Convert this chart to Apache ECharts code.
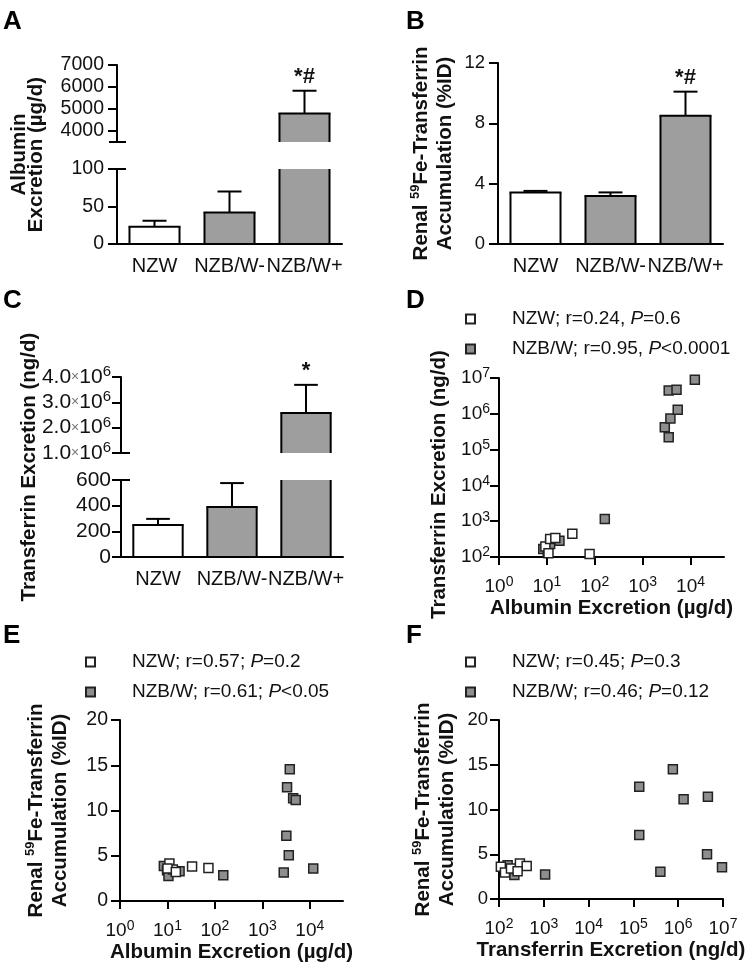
<!DOCTYPE html>
<html><head><meta charset="utf-8">
<script src="https://cdn.jsdelivr.net/npm/echarts@6/dist/echarts.min.js"></script>
<style>html,body{margin:0;padding:0;background:#fff}#c{width:750px;height:966px}</style>
</head><body><div id="c"></div>
<script>
// ---------------- DATA ----------------
const categories = ['NZW', 'NZB/W-', 'NZB/W+'];
const panelLetters = ['A', 'B', 'C', 'D', 'E', 'F'];

// A: albumin excretion (µg/d), mean and SEM
const albuminMean = [23, 42, 4800];
const albuminSem = [8, 28, 1030];
const albuminSig = ['', '', '*#'];
const albuminLowRange = [0, 100];
const albuminHighRange = [3500, 7000];
const albuminLowTicks = [0, 50, 100];
const albuminHighTicks = [4000, 5000, 6000, 7000];

// B: renal 59Fe-transferrin accumulation (%ID)
const renalMean = [3.42, 3.18, 8.5];
const renalSem = [0.1, 0.24, 1.6];
const renalSig = ['', '', '*#'];
const renalRange = [0, 12];
const renalTicks = [0, 4, 8, 12];

// C: transferrin excretion (ng/d)
const tfMean = [250, 390, 2580000];
const tfSem = [47, 186, 1110000];
const tfSig = ['', '', '*'];
const tfLowRange = [0, 600];
const tfHighRange = [1000000, 4000000];
const tfLowTicks = [0, 200, 400, 600];
const tfHighTicks = [1000000, 2000000, 3000000, 4000000];

// D: albumin (µg/d) vs transferrin (ng/d)
const dNZW = [[9.3, 198], [11.7, 318], [15, 340], [34, 447], [78, 121], [10.8, 128]];
const dNZBW = [[8.4, 167], [10.4, 140], [11.7, 231], [18.3, 285], [162, 1150],
  [2900, 420000], [3500, 220000], [3800, 740000], [5400, 1300000],
  [3500, 4500000], [5100, 4700000], [12300, 8900000]];
const dLegend = { 'NZW': 'NZW; r=0.24, {i|P}=0.6', 'NZB/W': 'NZB/W; r=0.95, {i|P}<0.0001' };
const dXRange = [1, 50000];
const dXTicks = [1, 10, 100, 1000, 10000];
const dYRange = [100, 10000000];
const dYTicks = [100, 1000, 10000, 100000, 1000000, 10000000];

// E: albumin (µg/d) vs renal accumulation (%ID)
const eNZW = [[11, 4.14], [13, 3.47], [33, 3.8], [73, 3.66], [10, 3.6], [15, 3.2]];
const eNZBW = [[8.4, 3.87], [9.8, 3.4], [10.5, 2.77], [18, 3.3], [150, 2.84],
  [3780, 14.57], [3310, 12.57], [4450, 11.35], [5040, 11.16], [3200, 7.2],
  [3600, 5.06], [2820, 3.14], [11800, 3.59]];
const eLegend = { 'NZW': 'NZW; r=0.57; {i|P}=0.2', 'NZB/W': 'NZB/W; r=0.61; {i|P}<0.05' };
const eXRange = [1, 50000];
const eXTicks = [1, 10, 100, 1000, 10000];
const eYRange = [0, 20];
const eYTicks = [0, 5, 10, 15, 20];

// F: transferrin (ng/d) vs renal accumulation (%ID)
const fNZW = [[110, 3.59], [136, 2.96], [185, 3.41], [293, 3.97], [415, 3.7], [260, 3.1]];
const fNZBW = [[156, 3.78], [220, 2.67], [250, 3.33], [1070, 2.74],
  [760000, 14.49], [135000, 12.55], [1320000, 11.14], [4600000, 11.43],
  [135000, 7.15], [400000, 3.05], [4400000, 4.99], [9500000, 3.54]];
const fLegend = { 'NZW': 'NZW; r=0.45; {i|P}=0.3', 'NZB/W': 'NZB/W; r=0.46; {i|P}=0.12' };
const fXRange = [100, 10000000];
const fXTicks = [100, 1000, 10000, 100000, 1000000, 10000000];
const fYRange = [0, 20];
const fYTicks = [0, 5, 10, 15, 20];

// ---------------- STYLE / HELPERS ----------------
const FONT = '"Liberation Sans", Arial, Helvetica, sans-serif';
const INK = '#111';
const BAR_GRAY = '#9e9e9e';
const PT_GRAY = '#8e8e8e';
const lineSt = { color: '#000', width: 2 };
function makeRich(fs) {
  return {
    b: { fontSize: fs, fontFamily: FONT, color: INK, lineHeight: fs + 4 },
    s: { fontSize: Math.round(fs * 0.72), fontFamily: FONT, color: INK, verticalAlign: 'top', lineHeight: Math.round(fs * 0.72) },
    x: { fontSize: Math.round(fs * 0.66), fontFamily: FONT, color: '#777', lineHeight: fs + 4 }
  };
}
const NAME_RICH = {
  sup: { fontSize: 13, fontFamily: FONT, fontWeight: 'bold', color: INK, verticalAlign: 'top', lineHeight: 13 }
};
const log10 = v => Math.log10(v);
const plain = v => String(v);
const powFmt = v => '{b|10}{s|' + Math.round(v) + '}';
const sciFmt = v => '{b|' + (v / 1e6).toFixed(1) + '}{x|×}{b|10}{s|6}';

const grids = [
  { left: 117, top: 65, width: 225, height: 77 },   // 0 A upper
  { left: 117, top: 169, width: 225, height: 75 },  // 1 A lower
  { left: 498, top: 63, width: 225, height: 181 },  // 2 B
  { left: 121, top: 377, width: 222, height: 76 },  // 3 C upper
  { left: 121, top: 480, width: 222, height: 77 },  // 4 C lower
  { left: 499, top: 378, width: 225, height: 179 }, // 5 D
  { left: 120, top: 720, width: 223, height: 181 }, // 6 E
  { left: 499, top: 720, width: 224, height: 179 }, // 7 F
  { left: 117, top: 65, width: 225, height: 179 },  // 8 A title holder
  { left: 121, top: 377, width: 222, height: 180 }  // 9 C title holder
].map(g => Object.assign({ containLabel: false, outerBoundsMode: 'none' }, g));

function hiddenCat(gi) {
  return { type: 'category', gridIndex: gi, data: categories, show: false };
}
function visCat(gi) {
  return {
    type: 'category', gridIndex: gi, data: categories,
    axisLine: { onZero: false, lineStyle: lineSt },
    axisTick: { alignWithLabel: true, length: 8, lineStyle: lineSt },
    axisLabel: { interval: 0, margin: 12, fontFamily: FONT, fontSize: 20, color: INK },
    splitLine: { show: false }
  };
}
function valAxis(gi, range, ticks, fmt, margin, fs, extra) {
  return Object.assign({
    type: 'value', gridIndex: gi, min: range[0], max: range[1],
    axisLine: { show: true, onZero: false, lineStyle: lineSt },
    axisTick: { show: true, length: 9, lineStyle: lineSt, customValues: ticks },
    axisLabel: { customValues: ticks, margin: margin, fontFamily: FONT, fontSize: fs, color: INK, formatter: fmt, rich: makeRich(fs) },
    splitLine: { show: false }
  }, extra || {});
}
function nameOnly(gi, name, gap, style) {
  return {
    type: 'value', gridIndex: gi, min: 0, max: 1,
    axisLine: { show: false }, axisTick: { show: false }, axisLabel: { show: false }, splitLine: { show: false },
    name: name, nameLocation: 'middle', nameGap: gap, nameTextStyle: style
  };
}
const TFS = 20.5;
const titleStyle = (lh, extra) => Object.assign({ fontFamily: FONT, fontSize: TFS, fontWeight: 'bold', color: INK, lineHeight: lh, rich: NAME_RICH }, extra || {});

function barSeries(ai, means) {
  return {
    type: 'custom', xAxisIndex: ai, yAxisIndex: ai, clip: false, z: 2, silent: true,
    data: means.map((v, i) => [i, v]),
    renderItem(params, api) {
      const i = api.value(0), v = api.value(1);
      const cs = params.coordSys;
      const bw = api.size([1, 0])[0] * 0.667;
      const pt = api.coord([i, v]);
      const cx = pt[0];
      let yTop = pt[1], yBot = api.coord([i, 0])[1];
      const gTop = cs.y, gBot = cs.y + cs.height;
      const cutTop = yTop < gTop - 0.5, cutBot = yBot > gBot + 0.5;
      yTop = Math.max(yTop, gTop); yBot = Math.min(yBot, gBot);
      if (yBot - yTop <= 0.5) return null;
      const x0 = cx - bw / 2, x1 = cx + bw / 2;
      const st = { stroke: '#000', lineWidth: 2 };
      const children = [{ type: 'rect', shape: { x: x0, y: yTop, width: bw, height: yBot - yTop }, style: { fill: i === 0 ? '#fff' : BAR_GRAY } }];
      children.push({ type: 'line', shape: { x1: x0, y1: yTop, x2: x0, y2: yBot }, style: st });
      children.push({ type: 'line', shape: { x1: x1, y1: yTop, x2: x1, y2: yBot }, style: st });
      if (!cutTop) children.push({ type: 'line', shape: { x1: x0 - 1, y1: yTop, x2: x1 + 1, y2: yTop }, style: st });
      if (!cutBot) children.push({ type: 'line', shape: { x1: x0 - 1, y1: yBot, x2: x1 + 1, y2: yBot }, style: st });
      return { type: 'group', children };
    }
  };
}
function errSeries(ai, means, sems, sigs, range) {
  const rows = [];
  means.forEach((m, i) => { if (m >= range[0] && m + sems[i] <= range[1]) rows.push([i, m, m + sems[i]]); });
  const sigFor = rows.map(r => sigs[r[0]]);
  return {
    type: 'custom', xAxisIndex: ai, yAxisIndex: ai, clip: false, z: 5, silent: true, data: rows,
    renderItem(params, api) {
      const i = api.value(0);
      const p0 = api.coord([i, api.value(1)]);
      const p1 = api.coord([i, api.value(2)]);
      const half = api.size([1, 0])[0] * 0.16;
      const st = { stroke: '#000', lineWidth: 2 };
      const children = [
        { type: 'line', shape: { x1: p0[0], y1: p0[1], x2: p1[0], y2: p1[1] }, style: st },
        { type: 'line', shape: { x1: p1[0] - half, y1: p1[1], x2: p1[0] + half, y2: p1[1] }, style: st }
      ];
      const s = sigFor[params.dataIndex];
      if (s) children.push({ type: 'text', style: { text: s, x: p1[0], y: p1[1] - 3, align: 'center', verticalAlign: 'bottom', fontSize: 22, fontWeight: 'bold', fontFamily: FONT, fill: INK } });
      return { type: 'group', children };
    }
  };
}
function capSeries(ai, values) {
  return {
    type: 'custom', xAxisIndex: ai, yAxisIndex: ai, clip: false, z: 6, silent: true,
    data: values.map(v => [0, v]),
    renderItem(params, api) {
      const y = api.coord([0, api.value(1)])[1];
      const x0 = params.coordSys.x;
      return { type: 'line', shape: { x1: x0 - 8, y1: y, x2: x0 + 9, y2: y }, style: { stroke: '#000', lineWidth: 2 } };
    }
  };
}
function scatterSeries(name, ai, pts, logX, logY, fill) {
  return {
    type: 'scatter', name: name, xAxisIndex: ai, yAxisIndex: ai, symbol: 'rect', symbolSize: 9, z: name === 'NZW' ? 4 : 3,
    data: pts.map(p => [logX ? log10(p[0]) : p[0], logY ? log10(p[1]) : p[1]]),
    itemStyle: { color: fill, borderColor: '#222', borderWidth: 1.5, opacity: 1 }
  };
}
function legendAt(left, top, map) {
  return {
    left: left, top: top, padding: 0, orient: 'vertical', data: ['NZW', 'NZB/W'], icon: 'rect',
    itemWidth: 9, itemHeight: 9, itemGap: 10, selectedMode: false,
    formatter: n => map[n],
    textStyle: { fontFamily: FONT, fontSize: 19, color: INK, lineHeight: 20, padding: [0, 0, 0, 32],
      rich: { i: { fontFamily: FONT, fontSize: 19, fontStyle: 'italic', color: INK } } }
  };
}

const xAxes = [
  hiddenCat(0), visCat(1), visCat(2), hiddenCat(3), visCat(4),
  valAxis(5, dXRange.map(log10), dXTicks.map(log10), powFmt, 18, 19, {
    name: 'Albumin Excretion (µg/d)', nameLocation: 'middle', nameGap: 40, nameTextStyle: titleStyle(22) }),
  valAxis(6, eXRange.map(log10), eXTicks.map(log10), powFmt, 18, 19, {
    name: 'Albumin Excretion (µg/d)', nameLocation: 'middle', nameGap: 40, nameTextStyle: titleStyle(22) }),
  valAxis(7, fXRange.map(log10), fXTicks.map(log10), powFmt, 18, 19, {
    name: 'Transferrin Excretion (ng/d)', nameLocation: 'middle', nameGap: 40, nameTextStyle: titleStyle(22) }),
  hiddenCat(8), hiddenCat(9)
];
xAxes.forEach(a => { if (a.type === 'value') { a.axisTick.length = 8; } });

const renalName = 'Renal {sup|59}Fe-Transferrin\nAccumulation (%ID)';
const yAxes = [
  valAxis(0, albuminHighRange, albuminHighTicks, plain, 13, 19.5),
  valAxis(1, albuminLowRange, albuminLowTicks, plain, 13, 19.5),
  valAxis(2, renalRange, renalTicks, plain, 13, 18.5, { name: renalName, nameLocation: 'middle', nameGap: 41, nameTextStyle: titleStyle(24) }),
  valAxis(3, tfHighRange, tfHighTicks, sciFmt, 10, 21),
  valAxis(4, tfLowRange, tfLowTicks, plain, 10, 21),
  valAxis(5, dYRange.map(log10), dYTicks.map(log10), powFmt, 9, 19, {
    name: 'Transferrin Excretion (ng/d)', nameLocation: 'middle', nameGap: 49, nameTextStyle: titleStyle(22, { padding: [0, 34, 0, 0] }) }),
  valAxis(6, eYRange, eYTicks, plain, 12, 19.5, { name: renalName, nameLocation: 'middle', nameGap: 48, nameTextStyle: titleStyle(24) }),
  valAxis(7, fYRange, fYTicks, plain, 11, 18.5, { name: renalName, nameLocation: 'middle', nameGap: 40, nameTextStyle: titleStyle(24) }),
  nameOnly(8, 'Albumin\nExcretion (µg/d)', 72, titleStyle(17)),
  nameOnly(9, 'Transferrin Excretion (ng/d)', 81, titleStyle(22))
];

const letterPos = [[3, 9], [406, 9], [3, 288], [406, 288], [3, 623], [406, 623]];
const titles = panelLetters.map((t, k) => ({
  text: t, left: letterPos[k][0], top: letterPos[k][1], padding: 0,
  textStyle: { fontFamily: FONT, fontSize: 26, fontWeight: 'bold', color: '#000' }
}));

const series = [
  barSeries(0, albuminMean), barSeries(1, albuminMean),
  errSeries(0, albuminMean, albuminSem, albuminSig, albuminHighRange),
  errSeries(1, albuminMean, albuminSem, albuminSig, albuminLowRange),
  capSeries(0, [albuminHighRange[0]]), capSeries(1, [albuminLowRange[1]]),
  barSeries(2, renalMean),
  errSeries(2, renalMean, renalSem, renalSig, renalRange),
  barSeries(3, tfMean), barSeries(4, tfMean),
  errSeries(3, tfMean, tfSem, tfSig, tfHighRange),
  errSeries(4, tfMean, tfSem, tfSig, tfLowRange),
  capSeries(3, [tfHighRange[0]]), capSeries(4, [tfLowRange[1]]),
  scatterSeries('NZB/W', 5, dNZBW, true, true, PT_GRAY),
  scatterSeries('NZW', 5, dNZW, true, true, '#fff'),
  scatterSeries('NZB/W', 6, eNZBW, true, false, PT_GRAY),
  scatterSeries('NZW', 6, eNZW, true, false, '#fff'),
  scatterSeries('NZB/W', 7, fNZBW, true, false, PT_GRAY),
  scatterSeries('NZW', 7, fNZW, true, false, '#fff')
];

const chart = echarts.init(document.getElementById('c'), null, { renderer: 'canvas', width: 750, height: 966 });
chart.setOption({
  animation: false,
  backgroundColor: '#fff',
  textStyle: { fontFamily: FONT },
  title: titles,
  legend: [legendAt(465, 309, dLegend), legendAt(85, 652, eLegend), legendAt(465, 652, fLegend)],
  grid: grids,
  xAxis: xAxes,
  yAxis: yAxes,
  series: series
});
</script>
</body></html>
